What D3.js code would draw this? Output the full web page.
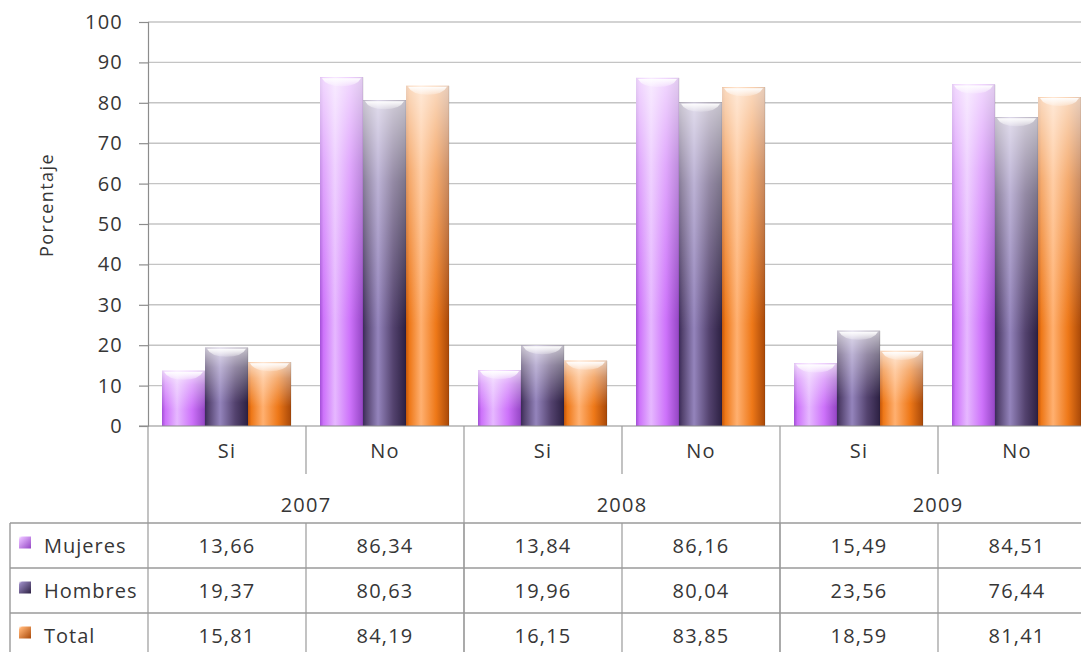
<!DOCTYPE html>
<html>
<head>
<meta charset="utf-8">
<script src="https://cdn.jsdelivr.net/npm/d3@7"></script>
<style>
html,body{margin:0;padding:0;background:#fff;}
svg{display:block;}
text{font-family:"Open Sans",sans-serif;fill:#363636;}
</style>
</head>
<body>
<svg id="chart" width="1081" height="652"></svg>
<script>
const years = ["2007", "2008", "2009"];
const answers = ["Si", "No"];
const seriesNames = ["Mujeres", "Hombres", "Total"];
const mujeres = [13.66, 86.34, 13.84, 86.16, 15.49, 84.51];
const hombres = [19.37, 80.63, 19.96, 80.04, 23.56, 76.44];
const total   = [15.81, 84.19, 16.15, 83.85, 18.59, 81.41];
const yTicks = [0, 10, 20, 30, 40, 50, 60, 70, 80, 90, 100];
const yTitle = "Porcentaje";

const seriesValues = [mujeres, hombres, total];
const categories = [];
years.forEach(y => answers.forEach(a => categories.push(y + "|" + a)));

const palettes = {
  Mujeres: ["#a24fd6", "#e6b8ff", "#cd72fa", "#9446c4"],
  Hombres: ["#3a2a58", "#9484bc", "#54436f", "#2c2042"],
  Total:   ["#c2560a", "#ffb070", "#ee7818", "#a84808"]
};

const FONT = "'Open Sans', sans-serif";
const FS = "20px";
const LS = "1.2px";

const svg = d3.select("#chart");
const W = 1081, H = 652;
const left = 148, catW = 158;
const y0 = 426, yTop = 22;

const x = d3.scaleBand().domain(categories).range([left, left + catW * categories.length]).padding(0);
const xs = d3.scaleBand().domain(seriesNames).range([14, 143]).padding(0);
const y = d3.scaleLinear().domain([0, 100]).range([y0, yTop]);

const defs = svg.append("defs");
seriesNames.forEach(s => {
  const p = palettes[s];
  const g = defs.append("linearGradient").attr("id", "h-" + s)
    .attr("x1", 0).attr("x2", 1).attr("y1", 0).attr("y2", 0);
  g.append("stop").attr("offset", "0").attr("stop-color", p[0]);
  g.append("stop").attr("offset", "0.08").attr("stop-color", p[2]);
  g.append("stop").attr("offset", "0.35").attr("stop-color", p[1]);
  g.append("stop").attr("offset", "0.7").attr("stop-color", p[2]);
  g.append("stop").attr("offset", "1").attr("stop-color", p[3]);
});
const v = defs.append("linearGradient").attr("id", "vshade")
  .attr("x1", 0).attr("x2", 0).attr("y1", 0).attr("y2", 1);
v.append("stop").attr("offset", "0").attr("stop-color", "#fff").attr("stop-opacity", 0.72);
v.append("stop").attr("offset", "0.25").attr("stop-color", "#fff").attr("stop-opacity", 0.38);
v.append("stop").attr("offset", "0.7").attr("stop-color", "#fff").attr("stop-opacity", 0.0);
const cap = defs.append("linearGradient").attr("id", "cap")
  .attr("x1", 0).attr("x2", 0).attr("y1", 0).attr("y2", 1);
cap.append("stop").attr("offset", "0").attr("stop-color", "#fff").attr("stop-opacity", 0.95);
cap.append("stop").attr("offset", "1").attr("stop-color", "#fff").attr("stop-opacity", 0.2);

// gridlines
svg.append("g").selectAll("line").data(yTicks.filter(t => t > 0)).join("line")
  .attr("x1", left).attr("x2", W)
  .attr("y1", d => y(d)).attr("y2", d => y(d))
  .attr("stroke", "#c4c4c4").attr("stroke-width", 1.4);

// y axis
const yAxis = d3.axisLeft(y).tickValues(yTicks).tickSize(9).tickPadding(16);
const ya = svg.append("g").attr("transform", `translate(${left},0)`).call(yAxis);
ya.select(".domain").attr("stroke", "#8c8c8c").attr("stroke-width", 1.2);
ya.selectAll(".tick line").attr("stroke", "#8c8c8c").attr("stroke-width", 1.2);
ya.selectAll(".tick text").style("font-family", FONT)
  .style("font-size", FS).style("letter-spacing", LS).attr("fill", "#363636");

svg.append("text").attr("transform", `translate(53,205) rotate(-90)`)
  .attr("text-anchor", "middle").style("font-size", "18px").style("letter-spacing", "1.4px").text(yTitle);

// bars
const barData = [];
categories.forEach((c, ci) => seriesNames.forEach((s, si) => {
  barData.push({cat: c, series: s, value: seriesValues[si][ci]});
}));
const bars = svg.append("g").selectAll("g").data(barData).join("g");
bars.append("rect")
  .attr("x", d => x(d.cat) + xs(d.series)).attr("width", xs.bandwidth())
  .attr("y", d => y(d.value)).attr("height", d => y0 - y(d.value))
  .attr("fill", d => `url(#h-${d.series})`);
bars.append("rect")
  .attr("x", d => x(d.cat) + xs(d.series)).attr("width", xs.bandwidth())
  .attr("y", d => y(d.value)).attr("height", d => y0 - y(d.value))
  .attr("fill", "url(#vshade)");
bars.append("path")
  .attr("d", d => {
    const bx = x(d.cat) + xs(d.series), bw = xs.bandwidth(), by = y(d.value);
    const r = 9;
    return `M${bx + 2},${by + 1} L${bx + bw - 2},${by + 1} Q${bx + bw - 6},${by + r} ${bx + bw / 2},${by + r} Q${bx + 6},${by + r} ${bx + 2},${by + 1} Z`;
  })
  .attr("fill", "url(#cap)");
bars.append("line")
  .attr("x1", d => x(d.cat) + xs(d.series) + xs.bandwidth()).attr("x2", d => x(d.cat) + xs(d.series) + xs.bandwidth())
  .attr("y1", d => y(d.value)).attr("y2", y0)
  .attr("stroke", "#000").attr("stroke-opacity", 0.12);

// baseline
svg.append("line").attr("x1", left - 9).attr("x2", W).attr("y1", y0).attr("y2", y0)
  .attr("stroke", "#8c8c8c").attr("stroke-width", 1.2);

// category axis (answers + years)
const gridColor = "#9a9a9a";
const cat = svg.append("g");
categories.forEach((c, i) => {
  const ans = c.split("|")[1];
  cat.append("text").attr("x", x(c) + catW / 2).attr("y", 458)
    .attr("text-anchor", "middle").style("font-size", FS).style("letter-spacing", LS).text(ans);
});
years.forEach((yr, i) => {
  const x0 = x(yr + "|" + answers[0]);
  cat.append("text").attr("x", x0 + catW).attr("y", 512)
    .attr("text-anchor", "middle").style("font-size", FS).style("letter-spacing", LS).text(yr);
  cat.append("line").attr("x1", x0 + catW).attr("x2", x0 + catW).attr("y1", y0).attr("y2", 474)
    .attr("stroke", gridColor).attr("stroke-width", 1.2);
  cat.append("line").attr("x1", x0).attr("x2", x0).attr("y1", y0).attr("y2", H)
    .attr("stroke", gridColor).attr("stroke-width", 1.2);
});

// data table
const rowTop = 523, rowH = 45;
const tbl = svg.append("g");
[0, 1, 2, 3].forEach(r => {
  tbl.append("line").attr("x1", 10).attr("x2", W).attr("y1", rowTop + r * rowH).attr("y2", rowTop + r * rowH)
    .attr("stroke", gridColor).attr("stroke-width", 1.4);
});
tbl.append("line").attr("x1", 10).attr("x2", 10).attr("y1", rowTop).attr("y2", H)
  .attr("stroke", gridColor).attr("stroke-width", 1.4);
categories.forEach((c, i) => {
  tbl.append("line").attr("x1", x(c) + catW).attr("x2", x(c) + catW).attr("y1", rowTop).attr("y2", H)
    .attr("stroke", gridColor).attr("stroke-width", 1.2);
});
seriesNames.forEach(s => {
  const p = palettes[s];
  const g = defs.append("linearGradient").attr("id", "lg-" + s)
    .attr("x1", 0).attr("x2", 1).attr("y1", 0).attr("y2", 1);
  g.append("stop").attr("offset", "0").attr("stop-color", "#fff").attr("stop-opacity", 1);
  g.append("stop").attr("offset", "0.15").attr("stop-color", p[1]);
  g.append("stop").attr("offset", "1").attr("stop-color", p[3]);
});
seriesNames.forEach((s, si) => {
  const cy = rowTop + si * rowH + rowH / 2;
  tbl.append("rect").attr("x", 19).attr("y", cy - 9).attr("width", 12).attr("height", 12)
    .attr("fill", `url(#lg-${s})`);
  tbl.append("text").attr("x", 44).attr("y", cy + 7).style("font-size", FS).style("letter-spacing", "1px").text(s);
  categories.forEach((c, ci) => {
    tbl.append("text").attr("x", x(c) + catW / 2).attr("y", cy + 7)
      .attr("text-anchor", "middle").style("font-size", FS).style("letter-spacing", LS)
      .text(d3.format(".2f")(seriesValues[si][ci]).replace(".", ","));
  });
});
</script>
</body>
</html>
